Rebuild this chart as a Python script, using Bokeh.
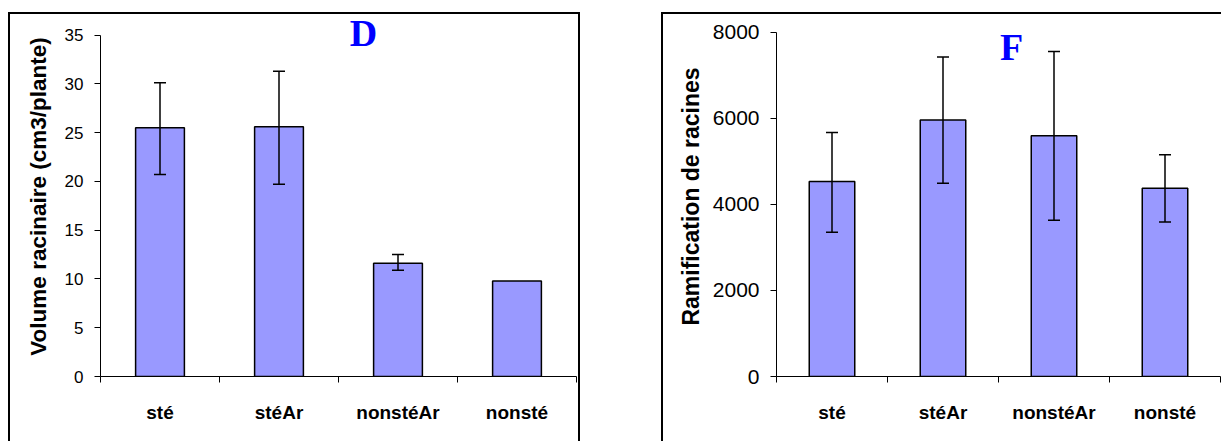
from bokeh.plotting import figure
from bokeh.models import (Range1d, FixedTicker, Whisker, ColumnDataSource,
                          TeeHead, Label, Spacer)
from bokeh.layouts import row
from bokeh.embed import file_html
from bokeh.resources import INLINE

# ---- data ----
categories = ["sté", "stéAr", "nonstéAr", "nonsté"]

volume = [25.5, 25.6, 11.6, 9.8]
volume_upper = [30.1, 31.3, 12.5, 9.8]
volume_lower = [20.7, 19.7, 10.9, 9.8]
volume_ticks = [0, 5, 10, 15, 20, 25, 30, 35]

ramif = [4530, 5960, 5590, 4370]
ramif_upper = [5670, 7420, 7550, 5150]
ramif_lower = [3350, 4490, 3630, 3590]
ramif_ticks = [0, 2000, 4000, 6000, 8000]

BAR_COLOR = "#9999FF"
SANS = "Liberation Sans"


def make_panel(values, upper, lower, yticks, y_end, ylabel, letter, letter_xy,
               width, height, mb, styles, margin, tick_size, label_size,
               label_standoff):
    n = len(categories)
    centers = [i + 0.5 for i in range(n)]
    bounds = [float(i) for i in range(n + 1)]
    p = figure(width=width, height=height, output_backend="svg",
               toolbar_location=None, x_range=Range1d(0, n),
               y_range=Range1d(yticks[0], y_end),
               min_border_left=mb[0], min_border_right=mb[1],
               min_border_top=mb[2], min_border_bottom=mb[3],
               styles=styles, margin=margin)
    p.outline_line_color = None
    p.xgrid.visible = False
    p.ygrid.visible = False
    p.background_fill_color = "white"
    p.border_fill_color = "white"

    src = ColumnDataSource(dict(x=centers, top=values))
    p.vbar(x="x", top="top", width=0.41, source=src, fill_color=BAR_COLOR,
           line_color="black", line_width=1.5)

    ex, eu, el = [], [], []
    for c, u, l in zip(centers, upper, lower):
        if u - l > 0:
            ex.append(c); eu.append(u); el.append(l)
    esrc = ColumnDataSource(dict(base=ex, upper=eu, lower=el))
    w = Whisker(base="base", upper="upper", lower="lower", source=esrc,
                level="overlay",
                line_color="black", line_width=1.5,
                upper_head=TeeHead(size=12, line_width=1.5, line_color="black"),
                lower_head=TeeHead(size=12, line_width=1.5, line_color="black"))
    p.add_layout(w)

    # x axis
    xa = p.xaxis[0]
    xa.ticker = FixedTicker(ticks=centers, minor_ticks=bounds)
    xa.major_label_overrides = {c: cat for c, cat in zip(centers, categories)}
    xa.major_tick_line_color = None
    xa.major_tick_out = 0
    xa.major_tick_in = 0
    xa.minor_tick_out = 6
    xa.minor_tick_in = 0
    xa.minor_tick_line_color = "black"
    xa.axis_line_color = "black"
    xa.major_label_text_font = SANS
    xa.major_label_text_font_style = "bold"
    xa.major_label_text_font_size = "19px"
    xa.major_label_text_color = "black"
    xa.major_label_standoff = 19

    # y axis
    ya = p.yaxis[0]
    ya.ticker = FixedTicker(ticks=yticks)
    ya.bounds = (yticks[0], yticks[-1])
    ya.minor_tick_line_color = None
    ya.major_tick_out = 6
    ya.major_tick_in = 0
    ya.major_tick_line_color = "black"
    ya.axis_line_color = "black"
    ya.major_label_text_font = SANS
    ya.major_label_text_font_size = tick_size
    ya.major_label_text_color = "black"
    ya.major_label_standoff = 11
    ya.axis_label = ylabel
    ya.axis_label_text_font = SANS
    ya.axis_label_text_font_style = "bold"
    ya.axis_label_text_font_size = label_size
    ya.axis_label_text_color = "black"
    ya.axis_label_standoff = label_standoff

    p.add_layout(Label(x=letter_xy[0], y=letter_xy[1], text=letter,
                       x_units="canvas", y_units="canvas", level="overlay",
                       text_font="Liberation Serif", text_font_style="bold",
                       text_font_size="38px", text_color="#0000FF",
                       text_align="center", text_baseline="alphabetic"))
    return p


left = make_panel(volume, volume_upper, volume_lower, volume_ticks, 36.9,
                  "Volume racinaire (cm3/plante)", "D", (351, 16),
                  568, 427, (90, 6, 2, 67),
                  {"box-sizing": "content-box",
                   "border-top": "2px solid black", "border-left": "2px solid black",
                   "border-right": "2px solid black"},
                  (12, 0, 0, 8),
                  "17px", "22.5px", 11)
right = make_panel(ramif, ramif_upper, ramif_lower, ramif_ticks, 8362,
                   "Ramification de racines", "F", (346, 30),
                   558, 427, (113, 3, 2, 63),
                   {"box-sizing": "content-box",
                    "border-top": "2px solid black", "border-left": "2px solid black"},
                   (12, 0, 0, 0),
                   "21px", "23px", 6)

layout = row(left, Spacer(width=81, height=10), right)

open("out.html", "w").write(file_html(layout, INLINE))
